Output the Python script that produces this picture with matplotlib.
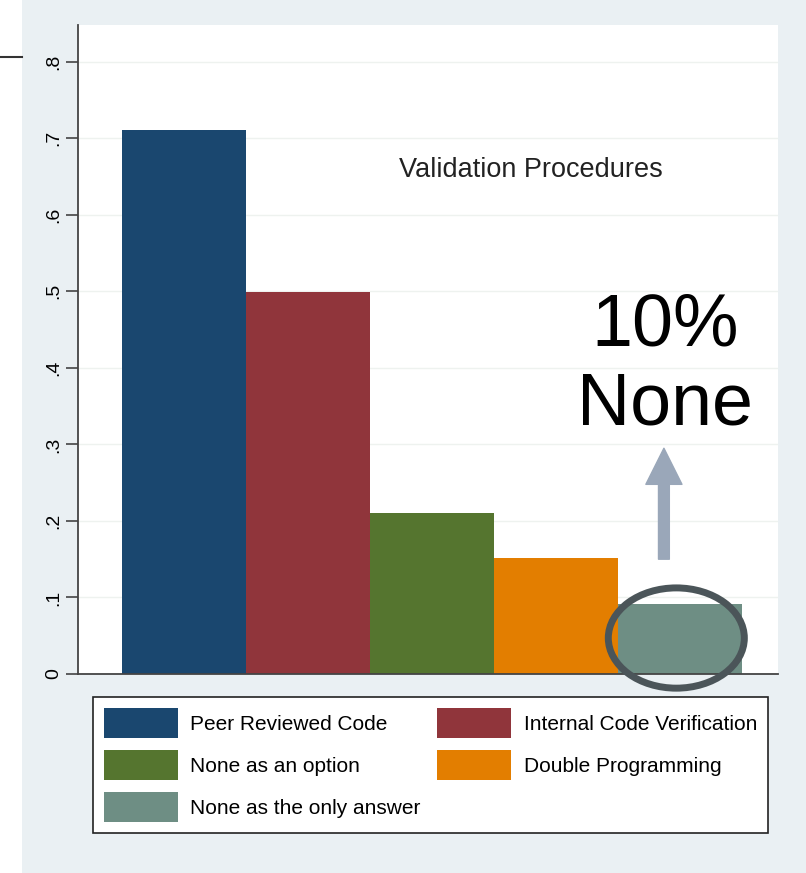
import matplotlib
matplotlib.use('Agg')
from matplotlib import pyplot as plt
from matplotlib.patches import Rectangle, Ellipse, FancyArrowPatch
from matplotlib.lines import Line2D

# data
procedures = ['Peer Reviewed Code', 'Internal Code Verification', 'None as an option',
              'Double Programming', 'None as the only answer']
shares = [0.711, 0.499, 0.211, 0.152, 0.091]
colors = ['#1a476f', '#90353b', '#55752f', '#e37e00', '#6e8e84']
yticks = [0, 0.1, 0.2, 0.3, 0.4, 0.5, 0.6, 0.7, 0.8]
ytick_labels = ['0', '.1', '.2', '.3', '.4', '.5', '.6', '.7', '.8']

plt.rcParams['font.family'] = ['Liberation Sans', 'DejaVu Sans']

W, H = 806, 873
fig = plt.figure(figsize=(W / 100, H / 100), dpi=100)
fig.patch.set_facecolor('#eaf0f3')
# white strip + little line on the left (slide decoration)
fig.patches.append(Rectangle((0, 0), 22 / W, 1, transform=fig.transFigure,
                             facecolor='white', edgecolor='none'))
fig.lines.append(Line2D([0, 22 / W], [1 - 57 / H, 1 - 57 / H], transform=fig.transFigure,
                        color='#333333', lw=1.5))

ax = fig.add_axes([78 / W, (H - 674) / H, 700 / W, (674 - 25) / H])
ax.set_facecolor('white')
x = list(range(len(shares)))
ax.bar(x, shares, width=1.0, color=colors, edgecolor='none', zorder=2)
ax.set_xlim(-0.855, 4.79)
ax.set_ylim(0, 0.848)
ax.set_xticks([])
ax.set_yticks(yticks)
ax.set_yticklabels(ytick_labels, rotation=90, va='center', fontsize=14)
ax.tick_params(axis='y', length=9, width=1.2, color='#444444', pad=2)
ax.grid(axis='y', color='#eef2ef', lw=1, zorder=0)
for s in ['top', 'right']:
    ax.spines[s].set_visible(False)
for s in ['left', 'bottom']:
    ax.spines[s].set_color('#444444')
    ax.spines[s].set_linewidth(1.3)
ax.spines['bottom'].set_zorder(3)

ax.text(2.80, 0.658, 'Validation Procedures', fontsize=19.5,
        ha='center', va='center', color='#222222')
ax.text(3.879, 0.403, '10%\nNone', fontsize=53, ha='center', va='center',
        color='black', linespacing=1.2)

arrow = FancyArrowPatch((3.87, 0.150), (3.87, 0.295),
                        arrowstyle='simple,head_length=1.0,head_width=1.0,tail_width=0.3',
                        mutation_scale=26, color='#9aa7b9', shrinkA=0, shrinkB=0, zorder=4)
ax.add_patch(arrow)
ax.add_patch(Ellipse((3.97, 0.047), 1.097, 0.131, facecolor='none', edgecolor='#4b5559',
                     lw=5, zorder=5, clip_on=False))

handles = [Rectangle((0, 0), 1, 1, facecolor=c, edgecolor='none') for c in colors]
order = [0, 2, 4, 1, 3]
leg = fig.legend([handles[i] for i in order], [procedures[i] for i in order],
                 loc='upper left', bbox_to_anchor=(93 / W, 1 - 697 / H, 675 / W, 0),
                 mode='expand', ncol=2,
                 prop={'size': 15}, frameon=True, fancybox=False,
                 edgecolor='#222222', facecolor='white', framealpha=1,
                 handlelength=3.55, handleheight=1.85, handletextpad=0.6,
                 labelspacing=0.58, columnspacing=1.0, borderpad=0.52, borderaxespad=0)
leg.get_frame().set_linewidth(1.2)

fig.savefig('out.png', dpi=100, facecolor=fig.get_facecolor())
